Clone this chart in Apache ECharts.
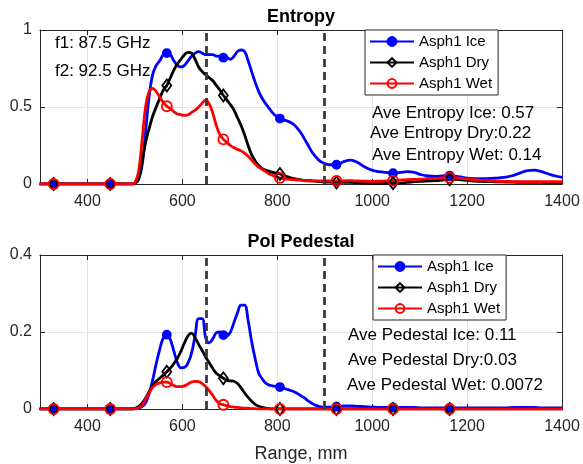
<!DOCTYPE html>
<html>
<head>
<meta charset="utf-8">
<script src="https://cdn.jsdelivr.net/npm/echarts@6/dist/echarts.min.js"></script>
<style>
  html, body { margin: 0; background: #fff; }
  #chart { width: 583px; height: 464px; }
</style>
</head>
<body>
<div id="chart"></div>
<script>
// range samples (mm) shared by all six curves
const rangeMm = [
  299.0, 313.9, 328.8, 343.7, 358.6, 373.5, 388.4, 403.3, 418.2, 433.1, 448.0, 462.9, 477.8, 492.7,
  500.2, 507.6, 515.1, 522.5, 530.0, 537.4, 544.9, 552.3, 559.8, 567.2,
  574.7, 582.1, 589.6, 597.0, 604.5, 611.9, 619.4, 626.8, 634.3, 641.7,
  649.2, 656.6, 664.1, 671.5, 679.0, 686.4, 693.9, 701.3, 708.8, 716.2,
  723.7, 731.1, 738.6, 746.0, 753.5, 760.9, 768.4, 775.8, 783.3, 790.7,
  798.2, 805.6, 813.1, 820.5, 828.0, 835.4, 842.9, 850.3, 857.8, 865.2,
  872.7, 880.1, 887.6, 895.0,
  909.9, 924.8, 939.7, 954.6, 969.5, 984.4, 999.3, 1014.2, 1029.1, 1044.0,
  1058.9, 1073.8, 1088.7, 1103.6, 1118.5, 1133.4, 1148.3, 1163.2, 1178.1, 1193.0,
  1207.9, 1222.8, 1237.7, 1252.6, 1267.5, 1282.4, 1297.3, 1312.2, 1327.1, 1342.0,
  1356.9, 1371.8, 1386.7, 1401.6
];
const markerRangeMm = [328.8, 448.0, 567.2, 686.4, 805.6, 924.8, 1044.0, 1163.2];
const dividerRangeMm = [650, 900];
const xTicks = [400, 600, 800, 1000, 1200, 1400];
const seriesNames = ['Asph1 Ice', 'Asph1 Dry', 'Asph1 Wet'];

const entropyIce = [
  0, 0, 0, 0, 0, 0, 0, 0, 0, 0, 0, 0, 0, 0,
  0.005, 0.03, 0.12, 0.34, 0.57, 0.71, 0.77, 0.80, 0.84, 0.85,
  0.84, 0.80, 0.77, 0.76, 0.77, 0.80, 0.83, 0.85, 0.86, 0.85,
  0.84, 0.84, 0.84, 0.83, 0.83, 0.82, 0.82, 0.81, 0.83, 0.86,
  0.87, 0.86, 0.80, 0.73, 0.66, 0.60, 0.555, 0.52, 0.49, 0.46,
  0.44, 0.425, 0.415, 0.41, 0.40, 0.385, 0.36, 0.33, 0.29, 0.25,
  0.21, 0.18, 0.155, 0.14,
  0.125, 0.125, 0.145, 0.155, 0.14, 0.11, 0.09, 0.08, 0.075, 0.07,
  0.075, 0.08, 0.075, 0.06, 0.052, 0.05, 0.053, 0.055, 0.05, 0.042,
  0.037, 0.035, 0.035, 0.037, 0.04, 0.045, 0.055, 0.072, 0.087, 0.09,
  0.08, 0.065, 0.052, 0.043
];
const entropyDry = [
  0, 0, 0, 0, 0, 0, 0, 0, 0, 0, 0, 0, 0, 0,
  0.005, 0.03, 0.145, 0.27, 0.36, 0.44, 0.50, 0.556, 0.61, 0.64,
  0.69, 0.74, 0.78, 0.81, 0.84, 0.855, 0.85, 0.81, 0.76, 0.73,
  0.71, 0.69, 0.67, 0.64, 0.61, 0.575, 0.545, 0.515, 0.48, 0.43,
  0.38, 0.32, 0.25, 0.19, 0.15, 0.12, 0.10, 0.09, 0.082, 0.075,
  0.07, 0.065, 0.057, 0.048, 0.04, 0.035, 0.03, 0.027, 0.024, 0.022,
  0.02, 0.018, 0.016, 0.014,
  0.012, 0.01, 0.01, 0.01, 0.008, 0.006, 0.005, 0.005, 0.005, 0.005,
  0.006, 0.01, 0.015, 0.018, 0.02, 0.022, 0.026, 0.03, 0.03, 0.026,
  0.02, 0.018, 0.016, 0.015, 0.014, 0.013, 0.012, 0.011, 0.01, 0.01,
  0.01, 0.009, 0.009, 0.008
];
const entropyWet = [
  0, 0, 0, 0, 0, 0, 0, 0, 0, 0, 0, 0, 0, 0,
  0.01, 0.08, 0.28, 0.50, 0.60, 0.62, 0.60, 0.565, 0.53, 0.505,
  0.49, 0.47, 0.455, 0.45, 0.445, 0.45, 0.465, 0.48, 0.50, 0.525,
  0.545, 0.52, 0.46, 0.38, 0.32, 0.29, 0.27, 0.25, 0.235, 0.225,
  0.215, 0.20, 0.18, 0.155, 0.13, 0.11, 0.095, 0.08, 0.065, 0.055,
  0.045, 0.04, 0.035, 0.032, 0.03, 0.028, 0.026, 0.024, 0.022, 0.02,
  0.02, 0.02, 0.02, 0.02,
  0.02, 0.02, 0.02, 0.022, 0.02, 0.018, 0.017, 0.018, 0.02, 0.022,
  0.025, 0.028, 0.03, 0.032, 0.035, 0.037, 0.04, 0.042, 0.04, 0.035,
  0.03, 0.026, 0.023, 0.02, 0.018, 0.017, 0.016, 0.016, 0.015, 0.015,
  0.015, 0.015, 0.015, 0.015
];

const pedestalIce = [
  0, 0, 0, 0, 0, 0, 0, 0, 0, 0, 0, 0, 0, 0,
  0, 0.002, 0.006, 0.016, 0.04, 0.075, 0.118, 0.155, 0.185, 0.193,
  0.18, 0.15, 0.12, 0.107, 0.108, 0.12, 0.145, 0.19, 0.235, 0.235,
  0.185, 0.172, 0.182, 0.198, 0.2, 0.192, 0.19, 0.2, 0.225, 0.25,
  0.27, 0.27, 0.23, 0.175, 0.13, 0.093, 0.078, 0.067, 0.062, 0.06,
  0.058, 0.057, 0.054, 0.051, 0.048, 0.045, 0.04, 0.034, 0.028, 0.021,
  0.015, 0.01, 0.007, 0.005,
  0.005, 0.006, 0.008, 0.008, 0.007, 0.006, 0.005, 0.004, 0.004, 0.004,
  0.004, 0.004, 0.004, 0.003, 0.003, 0.003, 0.003, 0.003, 0.003, 0.003,
  0.003, 0.003, 0.003, 0.003, 0.003, 0.003, 0.004, 0.004, 0.004, 0.004,
  0.003, 0.003, 0.003, 0.003
];
const pedestalDry = [
  0, 0, 0, 0, 0, 0, 0, 0, 0, 0, 0, 0, 0, 0,
  0.002, 0.006, 0.015, 0.028, 0.045, 0.06, 0.072, 0.08, 0.088, 0.097,
  0.106, 0.118, 0.132, 0.15, 0.172, 0.19, 0.197, 0.185, 0.168, 0.152,
  0.135, 0.12, 0.105, 0.093, 0.086, 0.08, 0.075, 0.073, 0.072, 0.066,
  0.055, 0.042, 0.03, 0.02, 0.012, 0.007, 0.004, 0.002, 0.001, 0,
  0, 0, 0, 0, 0, 0, 0, 0, 0, 0,
  0, 0, 0, 0,
  0, 0, 0, 0, 0, 0, 0, 0, 0, 0,
  0, 0, 0, 0, 0, 0, 0, 0, 0, 0,
  0, 0, 0, 0, 0, 0, 0, 0, 0, 0,
  0, 0, 0, 0
];
const pedestalWet = [
  0, 0, 0, 0, 0, 0, 0, 0, 0, 0, 0, 0, 0, 0,
  0.001, 0.003, 0.01, 0.025, 0.042, 0.056, 0.064, 0.068, 0.07, 0.07,
  0.066, 0.061, 0.058, 0.058, 0.06, 0.065, 0.07, 0.072, 0.071, 0.066,
  0.058, 0.048, 0.035, 0.022, 0.014, 0.011, 0.008, 0.006, 0.005, 0.004,
  0.003, 0.002, 0.002, 0.001, 0.001, 0, 0, 0, 0, 0,
  0, 0, 0, 0, 0, 0, 0, 0, 0, 0,
  0, 0, 0, 0,
  0, 0, 0, 0, 0, 0, 0, 0, 0, 0,
  0, 0, 0, 0, 0, 0, 0, 0, 0, 0,
  0, 0, 0, 0, 0, 0, 0, 0, 0, 0,
  0, 0, 0, 0
];

const FONT = '"Liberation Sans", Arial, Helvetica, sans-serif';
const INK = '#262626';
const GRID_LINE = '#e3e3e3';

// marker look for each curve (MATLAB '.-', 'd-', 'o-')
const looks = [
  { color: '#0000ff', symbol: 'circle', size: 8, fill: '#0000ff' },
  { color: '#000000', symbol: 'diamond', size: [9, 12], fill: 'rgba(255,255,255,0)' },
  { color: '#ff0000', symbol: 'circle', size: 10, fill: 'rgba(255,255,255,0)' },
];

function makeSeries(values, i, axisIdx) {
  const look = looks[i];
  const s = {
    name: seriesNames[i],
    type: 'line',
    xAxisIndex: axisIdx,
    yAxisIndex: axisIdx,
    smooth: 0.4,
    symbol: look.symbol,
    symbolSize: look.size,
    showSymbol: true,
    lineStyle: { color: look.color, width: 2.8 },
    itemStyle: { color: look.fill, borderColor: look.color, borderWidth: 1.8 },
    data: rangeMm.map((x, k) => ({
      value: [x, values[k]],
      symbol: markerRangeMm.includes(x) ? look.symbol : 'none',
    })),
  };
  if (i === 2) {
    s.markLine = {
      silent: true,
      symbol: ['none', 'none'],
      label: { show: false },
      lineStyle: { color: '#3a3a3a', width: 2.8, type: [8, 5] },
      data: dividerRangeMm.map(x => ({ xAxis: x })),
    };
  }
  return s;
}

function xAxes(gridIndex, withName) {
  return [
    {
      gridIndex, type: 'value', min: 300, max: 1400,
      name: withName ? 'Range, mm' : '',
      nameLocation: 'middle', nameGap: 36,
      nameTextStyle: { fontSize: 18, color: INK, fontFamily: FONT },
      axisLine: { onZero: false, lineStyle: { color: INK, width: 1 } },
      axisTick: { inside: true, length: 5, customValues: xTicks, lineStyle: { color: INK } },
      axisLabel: {
        customValues: xTicks, fontSize: 16, color: INK, margin: 10, fontFamily: FONT,
        formatter: v => String(v),
      },
      splitLine: { show: true, lineStyle: { color: GRID_LINE } },
    },
    {
      gridIndex, type: 'value', min: 300, max: 1400, position: 'top',
      axisLine: { onZero: false, lineStyle: { color: INK, width: 1 } },
      axisTick: { inside: true, length: 5, customValues: xTicks, lineStyle: { color: INK } },
      axisLabel: { show: false },
      splitLine: { show: false },
    },
  ];
}

function yAxes(gridIndex, max, interval) {
  return [
    {
      gridIndex, type: 'value', min: 0, max, interval,
      axisLine: { show: true, onZero: false, lineStyle: { color: INK, width: 1 } },
      axisTick: { show: true, inside: true, length: 5, lineStyle: { color: INK } },
      axisLabel: { fontSize: 16, color: INK, margin: 8, fontFamily: FONT },
      splitLine: { show: true, lineStyle: { color: GRID_LINE } },
    },
    {
      gridIndex, type: 'value', min: 0, max, interval, position: 'right',
      axisLine: { show: true, onZero: false, lineStyle: { color: INK, width: 1 } },
      axisTick: { show: true, inside: true, length: 5, lineStyle: { color: INK } },
      axisLabel: { show: false },
      splitLine: { show: false },
    },
  ];
}

function legendBox(left, top) {
  return {
    data: seriesNames,
    orient: 'vertical',
    left, top,
    itemWidth: 44,
    itemHeight: 11,
    itemGap: 6,
    padding: [4, 6, 4, 4],
    backgroundColor: '#ffffff',
    borderColor: INK,
    borderWidth: 1,
    borderRadius: 0,
    textStyle: { fontSize: 15, lineHeight: 15, color: '#000', fontFamily: FONT },
  };
}

function label(text, x, y, opts = {}) {
  return {
    type: 'text', x, y, silent: true, z: 100,
    style: {
      text, fontSize: opts.size || 17, fontWeight: opts.bold ? 'bold' : 'normal',
      fill: '#000', fontFamily: FONT,
      textAlign: opts.align || 'left', textVerticalAlign: 'middle',
    },
  };
}

const chart = echarts.init(document.getElementById('chart'), null, { renderer: 'canvas' });
chart.setOption({
  animation: false,
  backgroundColor: '#ffffff',
  grid: [
    { left: 40, right: 21, top: 30, height: 154 },
    { left: 40, right: 21, top: 255, height: 154 },
  ],
  xAxis: [...xAxes(0, false), ...xAxes(1, true)],
  yAxis: [...yAxes(0, 1, 0.5), ...yAxes(1, 0.4, 0.2)],
  legend: [legendBox(365, 30), legendBox(373, 255)],
  series: [
    makeSeries(entropyIce, 0, 0),
    makeSeries(entropyDry, 1, 0),
    makeSeries(entropyWet, 2, 0),
    makeSeries(pedestalIce, 0, 2),
    makeSeries(pedestalDry, 1, 2),
    makeSeries(pedestalWet, 2, 2),
  ],
  graphic: [
    label('Entropy', 301, 17, { size: 18, bold: true, align: 'center' }),
    label('Pol Pedestal', 301, 242, { size: 18, bold: true, align: 'center' }),
    label('f1: 87.5 GHz', 55, 43),
    label('f2: 92.5 GHz', 55, 71),
    label('Ave Entropy Ice: 0.57', 372, 113),
    label('Ave Entropy Dry:0.22', 370, 133),
    label('Ave Entropy Wet: 0.14', 372, 155),
    label('Ave Pedestal Ice: 0.11', 348, 335),
    label('Ave Pedestal Dry:0.03', 348, 360),
    label('Ave Pedestal Wet: 0.0072', 347, 385),
  ],
});
</script>
</body>
</html>
